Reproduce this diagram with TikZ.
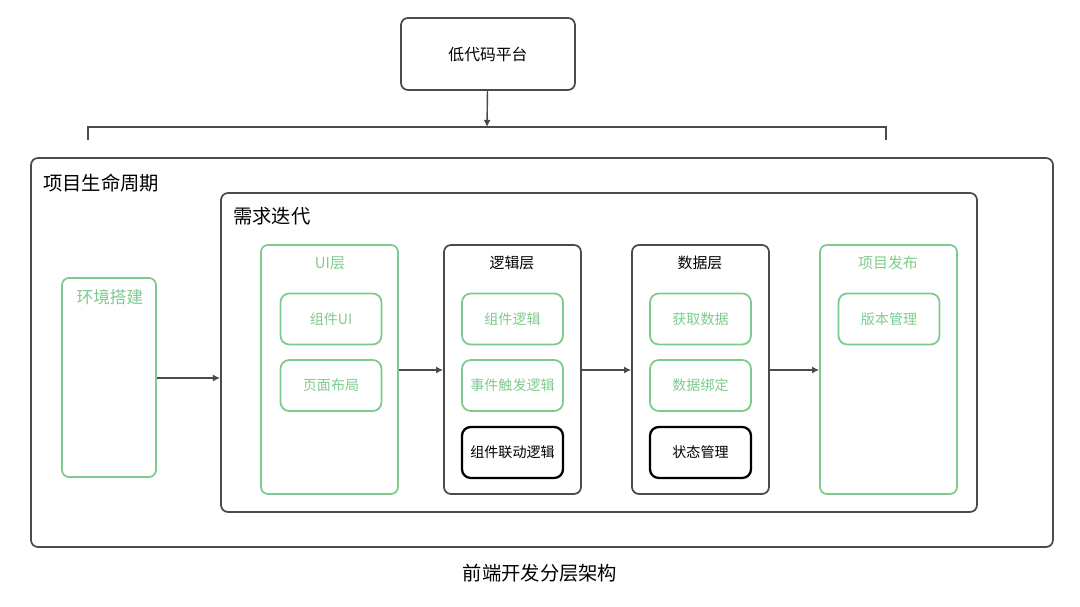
\documentclass[tikz,border=0pt]{standalone}
\usepackage{fontspec}
\setmainfont{Noto Sans CJK SC}
\usetikzlibrary{positioning,arrows.meta}
\definecolor{lgreen}{HTML}{7DCB8C}
\definecolor{dgray}{HTML}{4A4A4A}
\tikzset{
  frame/.style={draw=dgray,line width=1pt,rounded corners=4pt},
  layer/.style={draw=dgray,line width=1pt,rounded corners=4pt},
  glayer/.style={draw=lgreen,line width=1pt,rounded corners=4pt},
  gitem/.style={draw=lgreen,line width=1pt,rounded corners=5pt,text=lgreen,font=\fontsize{8}{9}\selectfont},
  bitem/.style={draw=black,line width=1.3pt,rounded corners=5pt,text=black,font=\fontsize{8}{9}\selectfont},
  ttl/.style={draw=none,font=\fontsize{11}{12}\selectfont},
  sub/.style={draw=none,font=\fontsize{8.5}{10}\selectfont},
  flow/.style={-{Latex[length=4pt,width=4pt]},draw=dgray,line width=0.8pt}
}
\begin{document}
\begin{tikzpicture}[x=0.02cm,y=-0.02cm]
  \useasboundingbox (0,0) rectangle (1080,607);
  % top platform
  \node[frame,minimum width=174*0.02cm,minimum height=72*0.02cm,font=\fontsize{9}{10}\selectfont] (lowcode) at (488,54){低代码平台};
  \coordinate (brk) at (487,127);
  \draw[flow] (lowcode) -- (brk);
  \draw[dgray,line width=1pt] (88,140) -- (88,127) -- (886,127) -- (886,140);
  % outer frames
  \draw[frame] (31,158) rectangle (1053,547);
  \node[ttl,anchor=west] (life) at (37,183){项目生命周期};
  \draw[frame] (221,193) rectangle (977,512);
  \node[ttl,anchor=west] (iter) at (227,216){需求迭代};
  % environment
  \node[glayer,minimum width=94*0.02cm,minimum height=199*0.02cm] (env) at (109,377.5){};
  \node[sub,text=lgreen,font=\fontsize{9.5}{10}\selectfont] (envt) at (110,297){环境搭建};
  % layers
  \node[glayer,minimum width=137*0.02cm,minimum height=249*0.02cm] (ui) at (329.5,369.5){};
  \node[sub,text=lgreen] (uit) at (330,263){UI层};
  \node[layer,minimum width=137*0.02cm,minimum height=249*0.02cm] (logic) at (512.5,369.5){};
  \node[sub] (logict) at (512,263){逻辑层};
  \node[layer,minimum width=137*0.02cm,minimum height=249*0.02cm] (data) at (700.5,369.5){};
  \node[sub] (datat) at (700,263){数据层};
  \node[glayer,minimum width=137*0.02cm,minimum height=249*0.02cm] (rel) at (888.5,369.5){};
  \node[sub,text=lgreen] (relt) at (888,263){项目发布};
  % items
  \foreach \n/\x/\y/\s/\t in {a/331/319/gitem/组件UI, b/331/385.5/gitem/页面布局,
      c/512.5/319/gitem/组件逻辑, d/512.5/385.5/gitem/事件触发逻辑, e/512.5/452.5/bitem/组件联动逻辑,
      f/700.5/319/gitem/获取数据, g/700.5/385.5/gitem/数据绑定, h/700.5/452.5/bitem/状态管理,
      i/889/319/gitem/版本管理}
    \node[\s,minimum width=101*0.02cm,minimum height=51*0.02cm] (\n) at (\x,\y){\t};
  % flow
  \coordinate (iterin) at (220,378);
  \draw[flow] (env.east |- iterin) -- (iterin);
  \draw[flow] (ui.east |- 0,370) -- (logic.west |- 0,370);
  \draw[flow] (logic.east |- 0,370) -- (data.west |- 0,370);
  \draw[flow] (data.east |- 0,370) -- (rel.west |- 0,370);
  \node[ttl] (cap) at (540,573){前端开发分层架构};
\end{tikzpicture}
\end{document}
